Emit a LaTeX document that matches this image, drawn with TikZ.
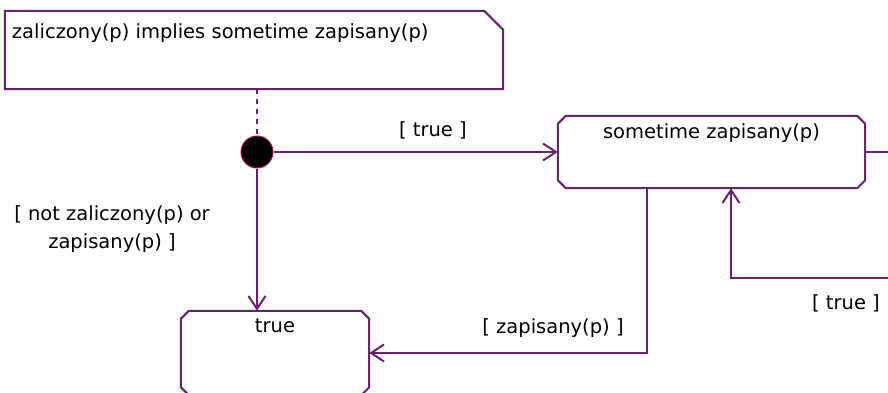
\documentclass[tikz,border=0pt]{standalone}
\usepackage{fontspec}
\setmainfont{DejaVu Sans}
\usetikzlibrary{arrows.meta,calc,positioning}
\definecolor{umlline}{RGB}{104,36,104}
\definecolor{umlred}{RGB}{170,20,60}
% chamfered outline round a named node
\newcommand{\chamferbox}[1]{%
  \draw[umlline, line width=2pt] ([xshift=8pt]#1.north west) -- ([xshift=-8pt]#1.north east)
    -- ([yshift=-8pt]#1.north east) -- ([yshift=8pt]#1.south east)
    -- ([xshift=-8pt]#1.south east) -- ([xshift=8pt]#1.south west)
    -- ([yshift=8pt]#1.south west) -- ([yshift=-8pt]#1.north west) -- cycle;}

\begin{document}
\begin{tikzpicture}[x=1pt, y=-1pt, >={Straight Barb[length=13pt,width=17pt]},
    every node/.style={font=\fontsize{19.5}{28}\selectfont, text=black},
    state/.style={rectangle, inner sep=0pt},
    trans/.style={->, draw=umlline, line width=2pt}]
    \path[clip, use as bounding box] (0,0) rectangle (888,392);
    % note
    \node[minimum width=498pt, minimum height=78pt, inner sep=0pt] (note) at (254,50) {};
    \draw[umlline, line width=2pt] (note.north west) -- ([xshift=-19pt]note.north east)
      -- ([yshift=-19pt]note.north east) -- (note.south east) -- (note.south west) -- cycle;
    \node[anchor=west, inner sep=0pt] (notetext) at ([xshift=7pt, yshift=-22pt]note.north west)
      {zaliczony(p) implies sometime zapisany(p)};
    % states
    \node[circle, fill=black, draw=umlred, line width=1pt, minimum size=32pt, inner sep=0pt] (init) at (257,152) {};
    \node[state, minimum width=307pt, minimum height=72pt] (sz) at (711.5,152) {};
    \chamferbox{sz}
    \node[below=8pt of sz.north, inner sep=0pt] (sztext) {sometime zapisany(p)};
    \node[state, minimum width=188pt, minimum height=84pt] (tr) at (275,353) {};
    \chamferbox{tr}
    \node[below=8pt of tr.north, inner sep=0pt] (trtext) {true};
    % transitions
    \draw[umlline, line width=2pt, dash pattern=on 5pt off 5pt] (init.north |- note.south) -- (init.north);
    \draw[trans] (init) -- (sz);
    \node (g1) at (433,130) {[ true ]};
    \draw[trans] (init) -- (init |- tr.north);
    \node[align=center] (g2) at (112,229) {[ not zaliczony(p) or\\ zapisany(p) ]};
    \draw[trans] ([xshift=-64.5pt]sz.south) |- (tr.east);
    \node (g3) at (553,328) {[ zapisany(p) ]};
    \coordinate (loop) at (905,278);
    \draw[trans] (sz.east) -| (loop) -| ([xshift=19.5pt]sz.south);
    \node (g4) at (846,303) {[ true ]};
\end{tikzpicture}
\end{document}
